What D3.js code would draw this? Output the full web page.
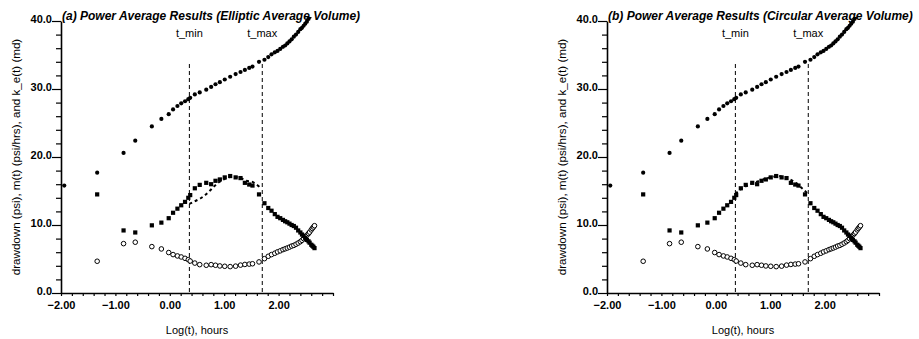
<!DOCTYPE html>
<html>
<head>
<meta charset="utf-8">
<script src="https://cdn.jsdelivr.net/npm/d3@7"></script>
<style>
  html, body { margin: 0; padding: 0; background: #fff; }
  svg { display: block; font-family: "Liberation Sans", Arial, sans-serif; }
</style>
</head>
<body>
<svg id="chart" width="919" height="339"></svg>
<script>
// Shared time grid, log10(t) in hours
const logT = [-1.94, -1.335, -0.85, -0.635, -0.33, -0.155, -0.02, 0.06, 0.14, 0.21, 0.28, 0.34, 0.375,
  0.46, 0.55, 0.67, 0.76, 0.84, 0.92, 1.01, 1.11, 1.21, 1.30, 1.38, 1.46, 1.52, 1.64, 1.74, 1.81, 1.87,
  1.93, 1.98, 2.03, 2.08, 2.12, 2.16, 2.20, 2.24, 2.28, 2.32, 2.36, 2.40, 2.43, 2.46, 2.49, 2.52, 2.55,
  2.57, 2.60, 2.62, 2.64, 2.66];

// k_e(t), md (filled circles)
const permeability = [15.8, 17.7, 20.6, 22.4, 24.5, 25.6, 26.3, 27.0, 27.5, 27.9, 28.2, 28.5, 28.7,
  29.2, 29.5, 29.9, 30.3, 30.7, 31.0, 31.4, 31.8, 32.2, 32.5, 32.8, 33.1, 33.3, 34.0, 34.3, 34.7, 35.1,
  35.4, 35.6, 35.9, 36.2, 36.4, 36.7, 37.0, 37.3, 37.7, 38.0, 38.4, 38.8, 39.0, 39.3, 39.6, 39.9, 40.3,
  40.6, 41.0, 41.3, 41.6, 41.9];

// m(t), psi/hrs (filled squares)
const slope = [null, 14.5, 9.2, 8.9, 9.95, 10.35, 11.0, 11.8, 12.4, 12.9, 13.4, 14.0, 14.4,
  15.4, 15.9, 16.2, 16.0, 16.5, 16.7, 17.0, 17.2, 17.0, 16.9, 16.2, 15.95, 15.8, 14.5, 13.2, 12.5, 12.1,
  11.6, 11.2, 11.0, 10.75, 10.55, 10.4, 10.2, 10.0, 9.85, 9.6, 9.2, 8.9, 8.6, 8.4, 8.1, 7.8, 7.6,
  7.4, 7.1, 6.95, 6.8, 6.6];

// drawdown, psi (open circles)
const drawdown = [null, 4.67, 7.26, 7.47, 6.82, 6.48, 5.95, 5.65, 5.45, 5.3, 5.1, 4.9, 4.7,
  4.4, 4.17, 4.08, 4.17, 4.08, 3.98, 3.93, 3.88, 3.95, 4.1, 4.2, 4.25, 4.3, 4.57, 5.05, 5.4, 5.65,
  5.85, 6.05, 6.2, 6.38, 6.5, 6.62, 6.75, 6.9, 7.0, 7.17, 7.35, 7.55, 7.75, 8.0, 8.25, 8.5, 8.75,
  8.95, 9.28, 9.5, 9.7, 9.9];

// Power-average fit of m(t) between t_min and t_max
const fitLogTA = [0.36, 0.45, 0.56, 0.65, 0.73, 0.81, 0.88, 0.975, 1.07, 1.16, 1.25, 1.33, 1.41, 1.50, 1.575, 1.64, 1.68];
const fitSlopeA = [13.1, 13.45, 13.9, 14.4, 15.0, 15.65, 16.15, 16.6, 17.0, 17.1, 17.0, 16.8, 16.5, 16.4, 16.05, 15.65, 15.3];
const fitLogTB = [0.36, 0.45, 0.60, 0.80, 1.00, 1.15, 1.30, 1.45, 1.60, 1.68];
const fitSlopeB = [14.6, 15.2, 15.9, 16.5, 17.0, 17.2, 16.9, 16.3, 15.3, 14.7];

// Interval markers
const tMin = 0.36, tMax = 1.70;

const panelTitles = [
  "(a) Power Average Results (Elliptic Average Volume)",
  "(b) Power Average Results (Circular Average Volume)"
];
const xLabelTicks = [-2, -1, 0, 1, 2];
const yLabelTicks = [0, 10, 20, 30, 40];
const xTitle = "Log(t), hours";
const yTitle = "drawdown (psi), m(t) (psi/hrs), and k_e(t) (md)";

const svg = d3.select("#chart");
const W = 272, H = 272;
const x = d3.scaleLinear().domain([-2, 3]).range([0, W]);
const y = d3.scaleLinear().domain([0, 40]).range([H, 0]);

function drawPanel(offsetX, idx, fitX, fitY) {
  const g = svg.append("g").attr("transform", `translate(${offsetX},21)`);
  const clipId = "clip" + idx;
  g.append("clipPath").attr("id", clipId)
    .append("rect").attr("x", -4).attr("y", -4).attr("width", W + 8).attr("height", H + 4);

  // title
  g.append("text").attr("x", 1).attr("y", -1)
    .style("font-size", "12px").style("font-weight", "bold").style("font-style", "italic")
    .text(panelTitles[idx]);

  // x axis: minor ticks every 0.2, labels at integers
  const xTicks = d3.range(0, 26).map(i => -2 + i * 0.2);
  const xAxis = d3.axisBottom(x).tickValues(xTicks).tickSize(3).tickSizeOuter(0).tickPadding(5)
    .tickFormat(d => xLabelTicks.some(v => Math.abs(v - d) < 1e-6) ? d3.format(".2f")(d) : "");
  const gx = g.append("g").attr("transform", `translate(0,${H})`).call(xAxis);
  gx.select(".domain").attr("stroke-width", 1.6);
  gx.selectAll(".tick line").attr("stroke-width", 1.2);
  gx.selectAll("text").style("font-size", "11px").style("font-weight", "bold")
    .style("font-family", "'Liberation Sans', Arial, sans-serif").attr("fill", "#000");

  // y axis: minor ticks every 2, labels every 10
  const yTicks = d3.range(0, 21).map(i => i * 2);
  const yAxis = d3.axisLeft(y).tickValues(yTicks).tickSize(5).tickSizeOuter(0).tickPadding(4)
    .tickFormat(d => yLabelTicks.includes(d) ? d3.format(".1f")(d) : "");
  const gy = g.append("g").call(yAxis);
  gy.select(".domain").attr("stroke-width", 1.6);
  gy.selectAll(".tick line").attr("stroke-width", 1.2)
    .attr("x2", d => yLabelTicks.includes(d) ? -9 : -5);
  gy.selectAll("text").attr("x", -9).attr("dy", "0.1em").style("font-size", "11px").style("font-weight", "bold")
    .style("font-family", "'Liberation Sans', Arial, sans-serif").attr("fill", "#000");

  // axis titles
  g.append("text").attr("x", W / 2).attr("y", H + 41).attr("text-anchor", "middle")
    .style("font-size", "11px").text(xTitle);
  g.append("text").attr("transform", `translate(-41,${H / 2}) rotate(-90)`).attr("text-anchor", "middle")
    .style("font-size", "11.6px").text(yTitle);

  // t_min / t_max markers
  [[tMin, "t_min"], [tMax, "t_max"]].forEach(([t, lab]) => {
    g.append("line").attr("x1", x(t)).attr("x2", x(t)).attr("y1", 43).attr("y2", H)
      .attr("stroke", "#000").attr("stroke-width", 1).attr("stroke-dasharray", "4,3");
    g.append("text").attr("x", x(t)).attr("y", 16).attr("text-anchor", "middle")
      .style("font-size", "11px").text(lab);
  });

  const plot = g.append("g").attr("clip-path", `url(#${clipId})`);
  const pts = arr => logT.map((t, i) => ({ t, v: arr[i] })).filter(d => d.v !== null);

  // drawdown (open circles)
  plot.selectAll(".dd").data(pts(drawdown)).join("circle").attr("class", "dd")
    .attr("cx", d => x(d.t)).attr("cy", d => y(d.v)).attr("r", 2.3)
    .attr("fill", "#fff").attr("stroke", "#000").attr("stroke-width", 1);

  // fitted m(t) (dashed)
  const line = d3.line().x((d, i) => x(fitX[i])).y(d => y(d)).curve(d3.curveMonotoneX);
  plot.append("path").attr("d", line(fitY)).attr("fill", "none").attr("stroke", "#000")
    .attr("stroke-width", 2).attr("stroke-dasharray", "3,3");

  // m(t) (filled squares)
  plot.selectAll(".m").data(pts(slope)).join("rect").attr("class", "m")
    .attr("x", d => x(d.t) - 2.1).attr("y", d => y(d.v) - 2.1).attr("width", 4.2).attr("height", 4.2)
    .attr("fill", "#000");

  // k_e(t) (filled circles)
  plot.selectAll(".k").data(pts(permeability)).join("circle").attr("class", "k")
    .attr("cx", d => x(d.t)).attr("cy", d => y(d.v)).attr("r", 2.1).attr("fill", "#000");
}

drawPanel(61, 0, fitLogTA, fitSlopeA);
drawPanel(607, 1, fitLogTB, fitSlopeB);
</script>
</body>
</html>
